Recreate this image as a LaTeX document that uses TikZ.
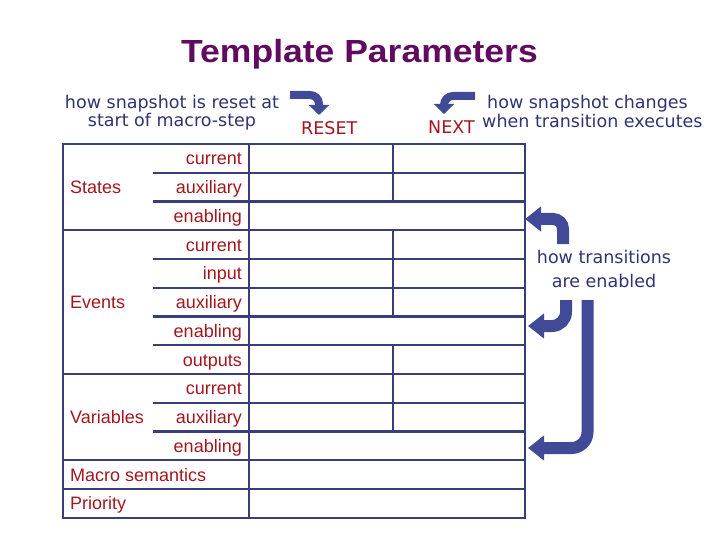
\documentclass[tikz,border=0pt]{standalone}
\usepackage{fontspec}
\setmainfont{Liberation Sans}
\newfontfamily\annfont{DejaVu Sans}
\usetikzlibrary{arrows.meta}
\definecolor{tred}{HTML}{A3161D}
\definecolor{tnavy}{HTML}{2F3370}
\definecolor{tline}{HTML}{3A3E78}
\definecolor{tarrow}{HTML}{414A96}
\definecolor{tpurple}{HTML}{600A60}
\begin{document}
\begin{tikzpicture}[x=1pt,y=-1pt,
  lbl/.style={font=\fontsize{18}{20}\selectfont, text=tred, inner sep=0pt},
  annot/.style={font=\annfont\fontsize{17.5}{20}\selectfont, text=tnavy, inner sep=0pt},
  keyword/.style={font=\annfont\fontsize{17.5}{20}\selectfont, text=tred, inner sep=0pt},
  gridline/.style={draw=tline, line width=2.2pt},
  bigarrow/.style={draw=tarrow, line width=12pt, -{Triangle[length=16pt,width=24pt]}},
  smallarrow/.style={draw=tarrow, line width=8pt, -{Triangle[length=10pt,width=20pt]}}]
\useasboundingbox (0,0) rectangle (720,540);
\def\rh{28.75}
% title
\node[font=\bfseries\fontsize{32}{36}\selectfont, text=tpurple, inner sep=0pt, anchor=base] (title) at (359.5,63) {\scalebox{1.11}[1]{Template Parameters}};
% top annotations
\node[annot, anchor=base] (resetA) at (172,109) {how snapshot is reset at};
\node[annot, anchor=base] (resetB) at (172,127) {start of macro-step};
\node[keyword, anchor=base west] (reset) at (301,135) {RESET};
\node[annot, anchor=base west] (nextA) at (487,109) {how snapshot changes};
\node[annot, anchor=base west] (nextB) at (482,128) {when transition executes};
\node[keyword, anchor=base west] (next) at (428,134) {NEXT};
\node[annot, anchor=base] (enA) at (604,263) {how transitions};
\node[annot, anchor=base] (enB) at (604,287) {are enabled};
% table
\draw[gridline] (63,144) rectangle (525,517.75);
\draw[gridline] (249,144) -- (249,517.75);
\draw[gridline] (393,144) -- (393,{144+2*\rh});
\draw[gridline] (393,{144+3*\rh}) -- (393,{144+6*\rh});
\draw[gridline] (393,{144+7*\rh}) -- (393,{144+10*\rh});
\foreach \i in {3,8,11,12} \draw[gridline] (63,{144+\i*\rh}) -- (525,{144+\i*\rh});
\foreach \i in {1,2,4,5,6,7,9,10} \draw[gridline] (153,{144+\i*\rh}) -- (525,{144+\i*\rh});
% row labels
\foreach \i/\t in {1/current,2/auxiliary,3/enabling,4/current,5/input,6/auxiliary,7/enabling,8/outputs,9/current,10/auxiliary,11/enabling}
  \node[lbl, anchor=base east] (row\i) at (242,{144+(\i-0.5)*\rh+6.5}) {\t};
\node[lbl, anchor=base west] (states) at (70,{144+1.5*\rh+6.5}) {States};
\node[lbl, anchor=base west] (events) at (70,{144+5.5*\rh+6.5}) {Events};
\node[lbl, anchor=base west] (vars) at (70,{144+9.5*\rh+6.5}) {Variables};
\node[lbl, anchor=base west] (macro) at (70,{144+11.5*\rh+6.5}) {Macro semantics};
\node[lbl, anchor=base west] (prio) at (70,{144+12.5*\rh+6.5}) {Priority};
% arrows
\coordinate (rs) at (290,95);
\coordinate (rt) at (319,115);
\draw[smallarrow] (rs) -- (310,95) to[out=0,in=90] (319,104) -- (rt);
\coordinate (ns) at (475,96);
\coordinate (nt) at (444,114);
\draw[smallarrow] (ns) -- (453,96) to[out=180,in=90] (444,105) -- (nt);
\coordinate (a1s) at (563,244);
\coordinate (a1t) at (525,219);
\draw[bigarrow] (a1s) -- (563,229) to[out=90,in=0] (553,219) -- (a1t);
\coordinate (a2s) at (566,300);
\coordinate (a2t) at (528,326);
\draw[bigarrow] (a2s) -- (566,312) to[out=-90,in=0] (552,326) -- (a2t);
\coordinate (a3s) at (587.5,300);
\coordinate (a3t) at (528,448);
\draw[bigarrow] (a3s) -- (587.5,432) to[out=-90,in=0] (571.5,448) -- (a3t);
\end{tikzpicture}
\end{document}
